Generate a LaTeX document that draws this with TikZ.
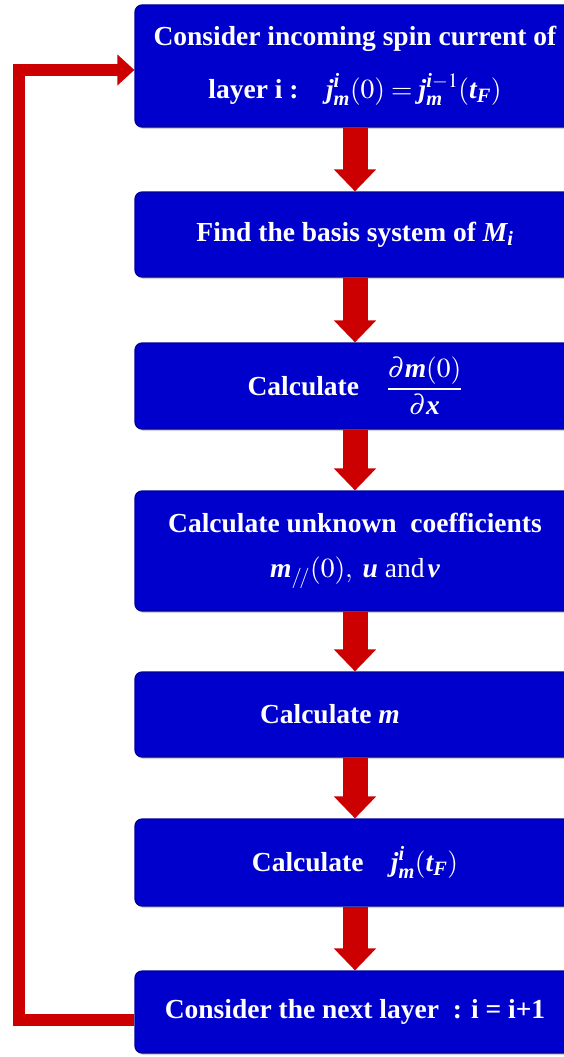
\documentclass[tikz,border=0pt]{standalone}
\usepackage{amsmath}
\usepackage{mathptmx}
\usepackage{fontspec}
\setmainfont{Liberation Serif}
\usetikzlibrary{arrows.meta,shadows}
\definecolor{boxblue}{RGB}{0,0,204}
\definecolor{boxedge}{RGB}{0,0,150}
\definecolor{arrred}{RGB}{204,0,0}
\newcommand{\bmv}[1]{\text{\bfseries\itshape #1}}

\begin{document}
\begin{tikzpicture}[x=1pt,y=-1pt,
  box/.style={draw=boxedge,fill=boxblue,line width=1.2pt,rounded corners=7pt,
    minimum width=440pt,inner sep=0pt,align=center,text=white,
    font=\fontsize{27.5}{33}\selectfont\bfseries,
    drop shadow={shadow xshift=2pt,shadow yshift=-2pt,opacity=0.35}},
  down/.style={draw=arrred,line width=25pt,-{Triangle[width=41pt,length=22pt]}},
  back/.style={draw=arrred,line width=12pt,line join=miter,-{Triangle[width=30pt,length=17pt]}}]
\useasboundingbox (0,0) rectangle (563,1057);

% Boxes
\node[box,minimum height=122pt] (consider) at (355,66) {Consider incoming spin current of\\[20pt]
  layer i :\quad $\bmv{j}_{\bmv{m}}^{\bmv{i}}(0)=\bmv{j}_{\bmv{m}}^{\bmv{i}-1}(\bmv{t}_{\bmv{F}})$};
\node[box,minimum height=85pt] (basis) at (355,234.5) {Find the basis system of $\bmv{M}_{\bmv{i}}$};
\node[box,minimum height=86pt] (dmdx) at (355,386) {Calculate\quad $\dfrac{\partial\bmv{m}(0)}{\partial\bmv{x}}$};
\node[box,minimum height=120pt] (coeff) at (355,551) {Calculate unknown\ \ coefficients\\[12pt]
  $\bmv{m}_{/\!/}(0),\ \bmv{u}\ \textnormal{and}\,\bmv{v}$\hspace{18pt}};
\node[box,minimum height=85pt] (calcm) at (355,714.5) {\makebox[190pt][l]{Calculate $\bmv{m}$}};
\node[box,minimum height=87pt] (calcj) at (355,862.5) {Calculate\quad $\bmv{j}_{\bmv{m}}^{\bmv{i}}(\bmv{t}_{\bmv{F}})$};
\node[box,minimum height=82pt] (next) at (355,1012) {Consider the next layer\ \ : i = i+1};

% Arrows
\draw[down] (consider.south) -- (basis.north);
\draw[down] (basis.south) -- (dmdx.north);
\draw[down] (dmdx.south) -- (coeff.north);
\draw[down] (coeff.south) -- (calcm.north);
\draw[down] (calcm.south) -- (calcj.north);
\draw[down] (calcj.south) -- (next.north);

% Loop back
\draw[back] ([yshift=-8pt]next.west) -- ++(-115,0) |- ([yshift=-4pt]consider.west);

\end{tikzpicture}
\end{document}
